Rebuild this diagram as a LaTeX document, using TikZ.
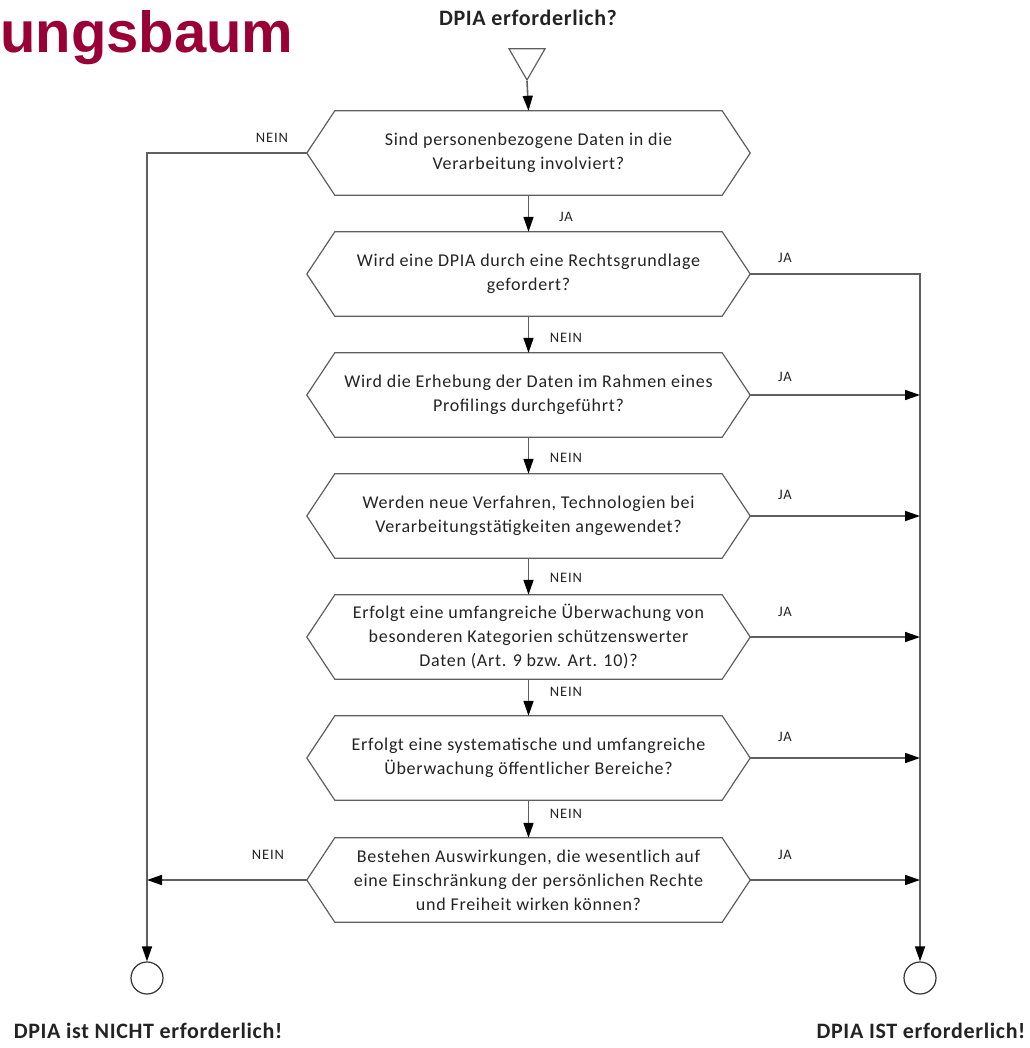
\documentclass[tikz,border=0pt]{standalone}
\usepackage{fontspec}
\setmainfont{Carlito}
\newfontfamily\titlefont{Liberation Sans}
\newfontfamily\qfont{Carlito}[LetterSpace=4]
\newfontfamily\lblfont{Carlito}[LetterSpace=6]
\newfontfamily\bigfont{Carlito}[LetterSpace=3]
\usetikzlibrary{arrows.meta,shapes.geometric}
\definecolor{titlered}{RGB}{153,0,51}
\definecolor{linegray}{RGB}{95,95,95}
\definecolor{txt}{RGB}{35,35,35}
\begin{document}
\begin{tikzpicture}[x=1pt,y=-1pt,
  q/.style={minimum width=443pt, minimum height=84pt, inner sep=0pt, align=center,
    font=\qfont\fontsize{18}{24}\selectfont, text=txt},
  hexline/.style={draw=linegray, line width=1.2pt},
  conn/.style={draw=linegray, line width=1.6pt},
  arr/.style={conn, -{Triangle[length=15pt,width=10pt,color=black]}},
  lbl/.style={font=\lblfont\fontsize{14.5}{14.5}\selectfont, text=txt},
  endc/.style={circle, draw=black!80, line width=1.2pt, minimum size=32pt, inner sep=0pt},
  big/.style={font=\bigfont\fontsize{22}{22}\selectfont\bfseries, text=txt},
  ]
\useasboundingbox (0,0) rectangle (1029,1048);

\node[anchor=base west, inner sep=0pt, text=titlered,
  font=\fontsize{58}{58}\selectfont\titlefont\bfseries] (title) at (0,53) {ungsbaum};

\node[big] (head) at (528,18) {DPIA erforderlich?};
\node[regular polygon, regular polygon sides=3, shape border rotate=180,
  draw=linegray, line width=1.2pt, minimum size=41.6pt, inner sep=0pt] (start) at (527,59.2) {};

\node[q] (h1) at (528.5,153) {Sind personenbezogene Daten in die\\Verarbeitung involviert?};
\node[q] (h2) at (528.5,274) {Wird eine DPIA durch eine Rechtsgrundlage\\gefordert?};
\node[q] (h3) at (528.5,395) {Wird die Erhebung der Daten im Rahmen eines\\Profilings durchgeführt?};
\node[q] (h4) at (528.5,516) {Werden neue Verfahren, Technologien bei\\Verarbeitungstätigkeiten angewendet?};
\node[q] (h5) at (528.5,637) {Erfolgt eine umfangreiche Überwachung von\\besonderen Kategorien schützenswerter\\Daten (Art. 9 bzw. Art. 10)?};
\node[q] (h6) at (528.5,758) {Erfolgt eine systematische und umfangreiche\\Überwachung öffentlicher Bereiche?};
\node[q] (h7) at (528.5,880) {Bestehen Auswirkungen, die wesentlich auf\\eine Einschränkung der persönlichen Rechte\\und Freiheit wirken können?};

\foreach \n in {h1,h2,h3,h4,h5,h6,h7}
  \draw[hexline] (\n.west) -- ([xshift=28pt]\n.north west) -- ([xshift=-28pt]\n.north east)
    -- (\n.east) -- ([xshift=-28pt]\n.south east) -- ([xshift=28pt]\n.south west) -- cycle;

\node[endc] (endno) at (147,978) {};
\node[endc] (endyes) at (920,978) {};
\node[big] (lno) at (148,1031) {DPIA ist NICHT erforderlich!};
\node[big] (lyes) at (921,1031) {DPIA IST erforderlich!};

% vertical flow
\draw[arr] (start.south) -- (h1.north);
\draw[arr] (h1.south) -- (h2.north);
\draw[arr] (h2.south) -- (h3.north);
\draw[arr] (h3.south) -- (h4.north);
\draw[arr] (h4.south) -- (h5.north);
\draw[arr] (h5.south) -- (h6.north);
\draw[arr] (h6.south) -- (h7.north);

% NEIN branch
\draw[arr] (h1.west) -| (endno.north);
\draw[arr] (h7.west) -- (h7.west -| endno.center);

% JA branch
\draw[arr] (h2.east) -| (endyes.north);
\draw[arr] (h3.east) -- (h3.east -| endyes.center);
\draw[arr] (h4.east) -- (h4.east -| endyes.center);
\draw[arr] (h5.east) -- (h5.east -| endyes.center);
\draw[arr] (h6.east) -- (h6.east -| endyes.center);
\draw[arr] (h7.east) -- (h7.east -| endyes.center);

% labels
\node[lbl] (n1) at (272,138) {NEIN};
\node[lbl] (j1) at (566,217) {JA};
\node[lbl] (n2) at (566,338) {NEIN};
\node[lbl] (n3) at (566,458) {NEIN};
\node[lbl] (n4) at (566,578) {NEIN};
\node[lbl] (n5) at (566,692) {NEIN};
\node[lbl] (n6) at (566,814) {NEIN};
\node[lbl] (n7) at (268,855) {NEIN};
\node[lbl] (j2) at (785,258) {JA};
\node[lbl] (j3) at (785,377) {JA};
\node[lbl] (j4) at (785,495) {JA};
\node[lbl] (j5) at (785,612) {JA};
\node[lbl] (j6) at (785,737) {JA};
\node[lbl] (j7) at (785,855) {JA};
\end{tikzpicture}
\end{document}
